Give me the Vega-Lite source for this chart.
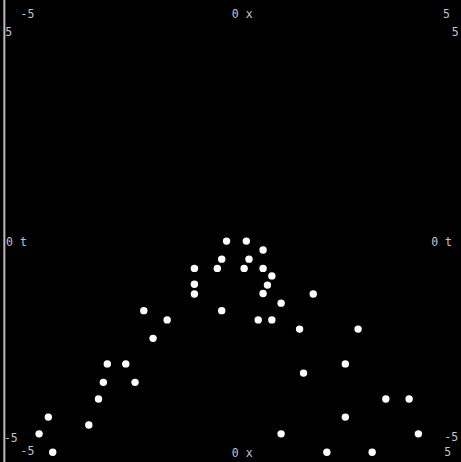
{
  "$schema": "https://vega.github.io/schema/vega-lite/v6.json",
  "width": 461,
  "height": 462,
  "padding": 0,
  "autosize": {"type": "none"},
  "background": "black",
  "config": {"view": {"stroke": null}},
  "datasets": {
    "points": [
      {"x": -0.09, "t": -0.23}, {"x": 0.36, "t": -0.23}, {"x": 0.74, "t": -0.43},
      {"x": -0.2, "t": -0.64}, {"x": 0.42, "t": -0.64}, {"x": -0.82, "t": -0.85},
      {"x": -0.3, "t": -0.85}, {"x": 0.31, "t": -0.85}, {"x": 0.74, "t": -0.85},
      {"x": 0.94, "t": -1.02}, {"x": 0.84, "t": -1.23}, {"x": -0.82, "t": -1.21},
      {"x": -0.82, "t": -1.43}, {"x": 0.74, "t": -1.42}, {"x": 1.88, "t": -1.43},
      {"x": 1.15, "t": -1.64}, {"x": -0.2, "t": -1.81}, {"x": 0.63, "t": -2.02},
      {"x": 0.94, "t": -2.02}, {"x": -1.97, "t": -1.81}, {"x": -1.44, "t": -2.02},
      {"x": 1.57, "t": -2.23}, {"x": 2.9, "t": -2.23}, {"x": -1.76, "t": -2.44},
      {"x": -2.8, "t": -3.02}, {"x": -2.38, "t": -3.02}, {"x": 2.61, "t": -3.02},
      {"x": -2.89, "t": -3.44}, {"x": -2.17, "t": -3.44}, {"x": 1.66, "t": -3.23},
      {"x": -3.0, "t": -3.82}, {"x": 3.53, "t": -3.82}, {"x": 4.06, "t": -3.82},
      {"x": -4.14, "t": -4.23}, {"x": -3.22, "t": -4.41}, {"x": 2.61, "t": -4.23},
      {"x": -4.35, "t": -4.61}, {"x": 1.15, "t": -4.61}, {"x": 4.27, "t": -4.61},
      {"x": -4.04, "t": -5.03}, {"x": 2.19, "t": -5.03}, {"x": 3.22, "t": -5.03}
    ],
    "labels": [
      {"lx": -4.77, "ly": 4.91, "label": "-5"},
      {"lx": 0.03, "ly": 4.91, "label": "0  x"},
      {"lx": 4.83, "ly": 4.91, "label": "5"},
      {"lx": -5.12, "ly": 4.5, "label": "5"},
      {"lx": 5.03, "ly": 4.5, "label": "5"},
      {"lx": -5.1, "ly": -0.27, "label": "0  t"},
      {"lx": 4.56, "ly": -0.27, "label": "0  t"},
      {"lx": -5.15, "ly": -4.73, "label": "-5"},
      {"lx": 4.86, "ly": -4.7, "label": "-5"},
      {"lx": -4.77, "ly": -5.03, "label": "-5"},
      {"lx": 0.03, "ly": -5.07, "label": "0  x"},
      {"lx": 4.86, "ly": -5.05, "label": "5"}
    ],
    "frame": [{"x": -5.14}]
  },
  "layer": [
    {
      "data": {"name": "frame"},
      "mark": {"type": "rule", "color": "#bbbbbb", "strokeWidth": 2},
      "encoding": {
        "x": {"field": "x", "type": "quantitative", "scale": {"domain": [-5, 5], "range": [10.5, 450.5]}, "axis": null}
      }
    },
    {
      "data": {"name": "labels"},
      "mark": {"type": "text", "align": "left", "baseline": "middle", "font": "DejaVu Sans Mono", "fontSize": 11.5, "color": "#c4c4c4"},
      "encoding": {
        "x": {"field": "lx", "type": "quantitative", "scale": {"domain": [-5, 5], "range": [10.5, 450.5]}, "axis": null},
        "y": {"field": "ly", "type": "quantitative", "scale": {"domain": [-5, 5], "range": [451, 11]}, "axis": null},
        "text": {"field": "label", "type": "nominal"}
      }
    },
    {
      "data": {"name": "points"},
      "mark": {"type": "circle", "color": "white", "opacity": 1, "size": 55},
      "encoding": {
        "x": {"field": "x", "type": "quantitative", "scale": {"domain": [-5, 5], "range": [10.5, 450.5]}, "axis": null},
        "y": {"field": "t", "type": "quantitative", "scale": {"domain": [-5, 5], "range": [451, 11]}, "axis": null}
      }
    }
  ]
}
